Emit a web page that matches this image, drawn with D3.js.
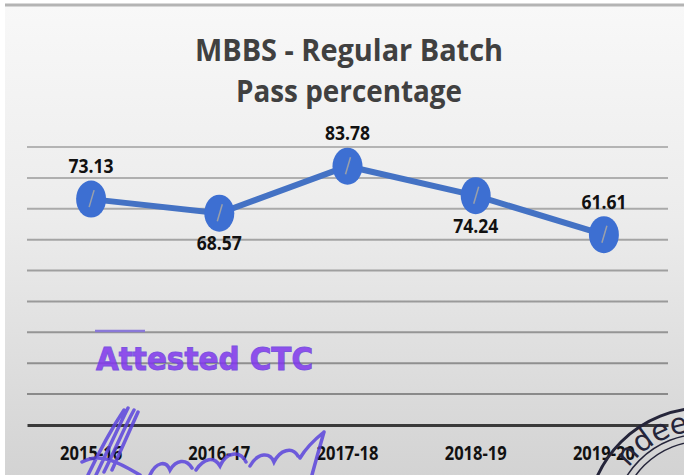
<!DOCTYPE html>
<html>
<head>
<meta charset="utf-8">
<script src="https://cdn.jsdelivr.net/npm/d3@7"></script>
<style>
  body { margin: 0; background: #fff; }
  svg { display: block; }
</style>
</head>
<body>
<div id="chart"></div>
<script>
// Data
const years = ['2015-16', '2016-17', '2017-18', '2018-19', '2019-20']
const passPct = [73.13, 68.57, 83.78, 74.24, 61.61]
const labelSide = ['above', 'below', 'above', 'below', 'above']
const gridTicks = [10, 20, 30, 40, 50, 60, 70, 80, 90]
const titleLines = ['MBBS - Regular Batch', 'Pass percentage']

const width = 684
const height = 475
const margin = { top: 147, right: 16, bottom: 50, left: 27 }
const font = '"Open Sans", Lato, sans-serif'

const svg = d3.select('#chart')
  .append('svg')
  .attr('width', width)
  .attr('height', height)

// Background (scanned slide look)
const defs = svg.append('defs')
const grad = defs.append('linearGradient')
  .attr('id', 'bg')
  .attr('x1', 0).attr('y1', 0).attr('x2', 0).attr('y2', 1)
grad.append('stop').attr('offset', '0%').attr('stop-color', '#f8f8f8')
grad.append('stop').attr('offset', '45%').attr('stop-color', '#ececec')
grad.append('stop').attr('offset', '100%').attr('stop-color', '#d3d3d3')

svg.append('rect')
  .attr('x', 5).attr('y', 5)
  .attr('width', width - 5).attr('height', height - 5)
  .attr('fill', 'url(#bg)')
svg.append('line')
  .attr('x1', 5).attr('x2', width)
  .attr('y1', 5).attr('y2', 5)
  .attr('stroke', '#b4b4b4')
  .attr('stroke-width', 3)

// Scales
const x = d3.scaleBand()
  .domain(years)
  .range([margin.left, width - margin.right])

const y = d3.scaleLinear()
  .domain([0, 90])
  .range([height - margin.bottom, margin.top])

// Gridlines
svg.append('g')
  .selectAll('line')
  .data(gridTicks)
  .join('line')
  .attr('x1', margin.left)
  .attr('x2', width - margin.right)
  .attr('y1', d => y(d))
  .attr('y2', d => y(d))
  .attr('stroke', d => d3.interpolateRgb('#858585', '#b4b4b4')(d / 90))
  .attr('stroke-width', 2)

// X axis
const xAxis = svg.append('g')
  .attr('transform', `translate(0, ${y(0)})`)
  .call(d3.axisBottom(x).tickSize(0).tickPadding(22))
xAxis.select('.domain')
  .attr('stroke', '#3a3a3a')
  .attr('stroke-width', 3)
xAxis.selectAll('text')
  .attr('font-family', font)
  .attr('font-weight', 'bold')
  .attr('font-size', 19)
  .attr('textLength', 62)
  .attr('lengthAdjust', 'spacingAndGlyphs')
  .attr('fill', '#111')

// Title
svg.append('g')
  .selectAll('text')
  .data(titleLines)
  .join('text')
  .attr('x', 349)
  .attr('y', (d, i) => 61 + i * 41)
  .attr('text-anchor', 'middle')
  .attr('font-family', font)
  .attr('font-weight', 'bold')
  .attr('font-size', 30)
  .attr('textLength', (d, i) => i === 0 ? 308 : 226)
  .attr('lengthAdjust', 'spacingAndGlyphs')
  .attr('fill', '#404040')
  .text(d => d)

// Line
const cx = d => x(d) + x.bandwidth() / 2
const pts = years.map((d, i) => [cx(d), y(passPct[i])])

svg.append('path')
  .datum(pts)
  .attr('fill', 'none')
  .attr('stroke', '#4472c4')
  .attr('stroke-width', 6)
  .attr('d', d3.line())

// Markers
const marks = svg.append('g')
  .selectAll('g')
  .data(pts)
  .join('g')
  .attr('transform', d => `translate(${d[0]}, ${d[1]})`)
marks.append('ellipse')
  .attr('rx', 15)
  .attr('ry', 18.5)
  .attr('fill', '#3d6fd2')
marks.append('line')
  .attr('x1', 3).attr('y1', -9)
  .attr('x2', -2).attr('y2', 8)
  .attr('stroke', '#9aa0aa')
  .attr('stroke-width', 1.5)

// Data labels
svg.append('g')
  .selectAll('text')
  .data(passPct)
  .join('text')
  .attr('x', (d, i) => cx(years[i]))
  .attr('y', (d, i) => labelSide[i] === 'above' ? y(d) - 26 : y(d) + 37)
  .attr('text-anchor', 'middle')
  .attr('font-family', font)
  .attr('font-weight', 'bold')
  .attr('font-size', 19)
  .attr('textLength', 45)
  .attr('lengthAdjust', 'spacingAndGlyphs')
  .attr('fill', '#111')
  .text(d => d.toFixed(2))

// Stamp and signature overlay
svg.append('line')
  .attr('x1', 95).attr('x2', 145)
  .attr('y1', 331).attr('y2', 331)
  .attr('stroke', '#8a78d8')
  .attr('stroke-width', 2.5)
svg.append('text')
  .attr('x', 96)
  .attr('y', 370)
  .attr('font-family', '"DejaVu Sans", sans-serif')
  .attr('font-weight', 'bold')
  .attr('font-size', 32)
  .attr('textLength', 217)
  .attr('lengthAdjust', 'spacingAndGlyphs')
  .attr('fill', '#8236ee')
  .attr('stroke', '#6a3ce0')
  .attr('stroke-width', 1)
  .attr('opacity', 0.85)
  .text('Attested CTC')

svg.append('path')
  .attr('d', [
    'M88,475 C100,450 112,428 124,410',
    'M96,475 C108,450 118,428 128,408',
    'M104,472 C116,448 124,428 134,410',
    'M112,470 C122,448 130,430 138,412',
    'M82,462 C100,452 118,462 140,475',
    'M150,475 C156,462 166,460 170,470 C176,460 186,458 192,468',
    'M196,470 C204,458 214,456 220,466 C226,452 240,450 246,462',
    'M250,466 C258,452 270,452 274,462 C280,450 292,446 298,456',
    'M300,458 C306,448 314,440 324,432 M312,475 C316,460 320,446 324,432'
  ].join(' '))
  .attr('fill', 'none')
  .attr('stroke', '#5a44dc')
  .attr('stroke-width', 3.5)
  .attr('stroke-linecap', 'round')
  .attr('opacity', 0.85)

const stamp = svg.append('g').attr('fill', 'none').attr('stroke', '#25253a')
stamp.append('circle').attr('cx', 703).attr('cy', 524).attr('r', 116).attr('stroke-width', 3)
stamp.append('circle').attr('cx', 703).attr('cy', 524).attr('r', 90).attr('stroke-width', 1.5)
stamp.append('circle').attr('cx', 703).attr('cy', 524).attr('r', 83).attr('stroke-width', 1.5)
defs.append('path')
  .attr('id', 'stampArc')
  .attr('d', 'M610,524 A93,93 0 0,1 749,443')
svg.append('text')
  .attr('font-family', '"DejaVu Sans", sans-serif')
  .attr('font-size', 29)
  .attr('fill', '#25253a')
  .append('textPath')
  .attr('href', '#stampArc')
  .attr('startOffset', 60)
  .text('ndee')
</script>
</body>
</html>
